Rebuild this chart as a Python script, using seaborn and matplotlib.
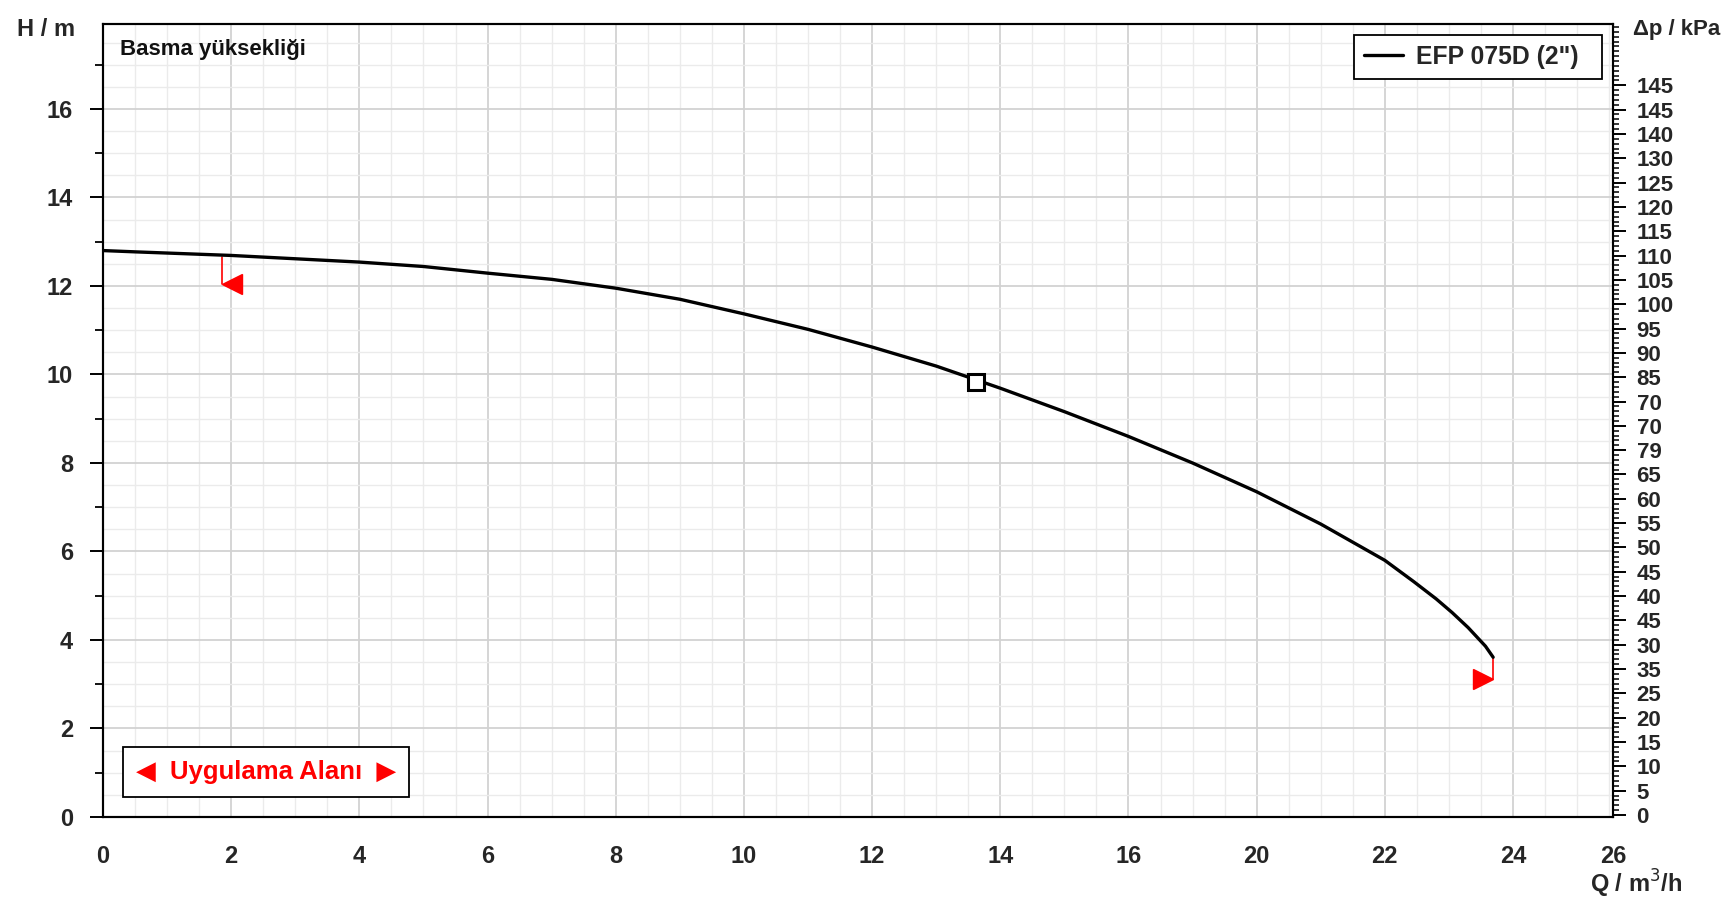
import matplotlib
matplotlib.use("Agg")
import matplotlib.pyplot as plt
import seaborn as sns
import pandas as pd
from matplotlib.ticker import MultipleLocator, FixedLocator

# pump curve EFP 075D (2")
flow = [0, 0.52, 2.0, 4, 5, 6, 7, 8, 9, 10, 11, 12, 13, 14, 15, 16, 17, 18, 19, 20,
        20.45, 20.8, 21.05, 21.3, 21.57, 21.69]
head = [12.80, 12.77, 12.69, 12.54, 12.44, 12.29, 12.15, 11.95, 11.70, 11.37, 11.02, 10.62, 10.19, 9.69,
        9.16, 8.60, 8.00, 7.35, 6.62, 5.80, 5.32, 4.93, 4.62, 4.28, 3.86, 3.61]
duty_q, duty_h = 13.62, 9.83
start_q, start_h, start_h_low = 1.86, 12.66, 12.05
end_q, end_h, end_h_low = 21.69, 3.61, 3.12

x_tick_pos = [0, 2, 4, 6, 8, 10, 12, 14, 16, 18, 20, 22, 23.56]
x_tick_labels = ["0", "2", "4", "6", "8", "10", "12", "14", "16", "20", "22", "24", "26"]
kpa_labels = ["0", "5", "10", "15", "20", "25", "35", "30", "45", "40", "45", "50", "55", "60", "65",
              "79", "70", "70", "85", "90", "95", "100", "105", "110", "115", "120", "125", "130",
              "140", "145", "145"]

df = pd.DataFrame({"Q": flow, "H": head})

sns.set_theme(style="white")
plt.rcParams['font.family'] = ['Liberation Sans', 'DejaVu Sans']

W, H = 1732, 908
rect = [103 / W, 1 - 817 / H, 1510 / W, 793 / H]
fig = plt.figure(figsize=(W / 100, H / 100), dpi=100)

# background axes only for the grid (0.5 steps)
axg = fig.add_axes(rect, zorder=0)
axg.set_xlim(0, 23.56)
axg.set_ylim(0, 17.92)
axg.xaxis.set_major_locator(FixedLocator(x_tick_pos))
axg.xaxis.set_minor_locator(MultipleLocator(0.5))
axg.yaxis.set_major_locator(MultipleLocator(2))
axg.yaxis.set_minor_locator(MultipleLocator(0.5))
axg.grid(which="major", color="#d2d2d2", lw=1.3)
axg.grid(which="minor", color="#ebebeb", lw=1.0)
axg.tick_params(which="both", length=0, labelbottom=False, labelleft=False)
for s in axg.spines.values():
    s.set_visible(False)

ax = fig.add_axes(rect, zorder=1)
ax.patch.set_visible(False)

sns.lineplot(data=df, x="Q", y="H", ax=ax, color="black", lw=2.4, label='EFP 075D (2")  ', zorder=5,
             solid_joinstyle="round", solid_capstyle="round")
ax.plot([duty_q], [duty_h], marker="s", ms=11, mfc="white", mec="black", mew=2.2, zorder=6)

red = "#ff0000"
ax.plot([start_q, start_q], [start_h, start_h_low], color=red, lw=1.2, zorder=4)
ax.plot([start_q + 0.16], [start_h_low], marker="<", ms=15, color=red, zorder=4)
ax.plot([end_q, end_q], [end_h, end_h_low], color=red, lw=1.2, zorder=4)
ax.plot([end_q - 0.16], [end_h_low], marker=">", ms=15, color=red, zorder=4)

ax.set_xlim(0, 23.56)
ax.set_ylim(0, 17.92)
ax.set_xlabel("")
ax.set_ylabel("")
ax.grid(False)

ax.xaxis.set_major_locator(FixedLocator(x_tick_pos))
ax.set_xticklabels(x_tick_labels)
ax.xaxis.set_minor_locator(MultipleLocator(0.5))
ax.yaxis.set_major_locator(MultipleLocator(2))
ax.yaxis.set_minor_locator(MultipleLocator(1))

for s in ax.spines.values():
    s.set_color("black")
    s.set_linewidth(1.5)

ax.tick_params(axis="both", which="major", direction="out", length=9.5, width=1.4, color="black",
               labelsize=17, pad=12)
ax.tick_params(axis="both", which="minor", direction="out", length=5.5, width=1.3, color="black")
ax.tick_params(axis="x", which="major", pad=11)
for lab in ax.get_xticklabels() + ax.get_yticklabels():
    lab.set_fontweight("bold")

# pressure axis
ax2 = ax.twinx()
ax2.set_ylim(-0.41, 162.6)
ax2.yaxis.set_major_locator(FixedLocator([5 * i for i in range(len(kpa_labels))]))
ax2.set_yticklabels(kpa_labels)
ax2.yaxis.set_minor_locator(MultipleLocator(1))
ax2.tick_params(axis="y", which="major", direction="out", length=9, width=1.4, color="black",
                labelsize=16, pad=8)
ax2.tick_params(axis="y", which="minor", direction="out", length=4, width=1.1, color="black")
for lab in ax2.get_yticklabels():
    lab.set_fontweight("bold")
for s in ax2.spines.values():
    s.set_color("black")
    s.set_linewidth(1.5)
ax2.grid(False)

leg = ax.legend(loc="upper right", frameon=True, fancybox=False, edgecolor="black", framealpha=1,
                prop={"weight": "bold", "size": 17.8}, handlelength=1.6, handletextpad=0.5,
                borderpad=0.4, borderaxespad=0.45)
leg.get_frame().set_linewidth(1.3)
leg.set_zorder(10)

ax.text(0.011, 0.981, "Basma yüksekliği", transform=ax.transAxes, ha="left", va="top",
        fontsize=16, fontweight="bold", color="#111111")

ax.text(0.1078, 0.057, "◀  Uygulama Alanı  ▶", transform=ax.transAxes, ha="center", va="center",
        fontsize=18.5, fontweight="bold", color=red, zorder=10,
        bbox=dict(boxstyle="square,pad=0.5", fc="white", ec="black", lw=1.3))

fig.text(46 / W, 1 - 30 / H, "H / m", ha="center", va="center", fontsize=17, fontweight="bold")
fig.text(1677 / W, 1 - 30 / H, "Δp / kPa", ha="center", va="center", fontsize=16, fontweight="bold")
fig.text(1636 / W, 1 - 884 / H, "Q / m$^3$/h", ha="center", va="center", fontsize=17, fontweight="bold")

fig.savefig("out.png", dpi=100, facecolor="white")
